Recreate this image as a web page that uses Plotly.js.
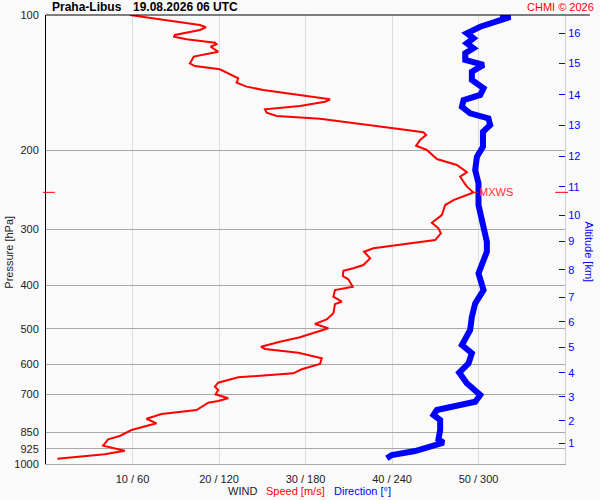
<!DOCTYPE html>
<html>
<head>
<meta charset="utf-8">
<script src="https://cdn.plot.ly/plotly-3.0.1.min.js"></script>
<style>
  html, body { margin: 0; padding: 0; background: #fafafa; }
  #chart { width: 600px; height: 500px; }
</style>
</head>
<body>
<div id="chart"></div>
<script>
// ---- Data ----
// Wind speed profile [m/s] vs pressure [hPa]
const speedPressure = [100, 105.3, 106.5, 108.0, 110.8, 111.8, 113.3, 115.3, 116.2, 117.7, 120.7, 123.8, 128.1, 129.9, 132.1, 134.9, 138.3, 141.5, 144.4, 146.9, 151.4, 154.1, 156.0, 159.5, 162.2, 165.1, 167.9, 170.2, 178.8, 182.5, 185.0, 189.8, 195.5, 199.8, 209.3, 215.8, 224.0, 229.1, 235.1, 241.2, 248.3, 250.4, 258.3, 265.0, 279.0, 290.2, 298.6, 306.4, 317.1, 326.5, 330.9, 336.7, 348.3, 360.5, 366.6, 371.2, 381.4, 387.9, 402.9, 409.8, 424.1, 435.1, 440.3, 461.8, 476.3, 487.6, 498.5, 522.1, 534.0, 547.9, 554.4, 565.0, 581.5, 598.8, 615.3, 628.1, 641.1, 659.1, 672.7, 684.2, 699.5, 714.0, 724.0, 730.3, 758.2, 773.9, 792.8, 811.7, 840.1, 866.3, 881.2, 910.6, 934.2, 951.6, 973.2];
const speed = [9.69, 17.79, 18.48, 17.79, 14.90, 14.81, 16.25, 19.53, 19.72, 19.03, 19.91, 17.09, 16.63, 17.21, 20.10, 21.06, 22.22, 22.04, 23.19, 25.12, 30.14, 32.84, 32.26, 29.36, 25.31, 25.51, 26.67, 31.68, 40.16, 43.63, 43.95, 43.25, 42.79, 44.03, 45.19, 47.50, 48.66, 47.88, 48.26, 48.66, 49.39, 48.96, 47.11, 46.15, 45.76, 44.61, 45.37, 45.65, 44.99, 40.16, 37.85, 36.77, 37.47, 36.69, 35.53, 34.38, 34.31, 34.95, 35.46, 33.41, 33.22, 34.19, 33.41, 33.22, 32.45, 31.10, 32.64, 29.36, 27.05, 24.85, 25.31, 29.17, 31.88, 31.68, 29.56, 28.59, 22.22, 19.91, 19.53, 19.91, 19.61, 21.06, 19.91, 18.75, 17.41, 13.36, 11.62, 12.78, 9.88, 8.53, 7.18, 6.60, 9.11, 6.79, 1.32];

// Wind direction profile [deg] vs pressure [hPa]
const directionPressure = [100, 101.0, 106.2, 109.8, 112.7, 115.6, 118.6, 121.7, 125.9, 129.2, 133.8, 139.6, 145.6, 150.7, 154.7, 160.1, 165.6, 169.9, 175.8, 182.0, 196.5, 206.9, 221.4, 237.1, 265.0, 288.7, 319.9, 336.7, 357.3, 376.2, 409.8, 438.7, 469.9, 503.0, 543.2, 566.7, 596.7, 625.5, 661.1, 702.0, 726.6, 745.5, 758.2, 777.9, 798.1, 840.1, 881.2, 896.7, 922.8, 935.6, 955.0, 971.2];
const direction = [315.1, 322.0, 301.2, 291.9, 296.5, 291.9, 296.5, 290.8, 290.8, 303.5, 295.4, 295.4, 303.5, 301.2, 289.6, 288.5, 294.2, 306.9, 308.1, 303.1, 303.1, 298.9, 297.7, 300.0, 300.0, 302.4, 305.8, 305.8, 302.4, 300.0, 303.5, 297.7, 295.4, 294.2, 288.5, 295.4, 293.1, 286.6, 291.9, 301.2, 297.7, 283.8, 271.1, 268.8, 273.4, 273.4, 272.2, 275.7, 260.7, 256.0, 239.9, 236.4];

// Maximum wind
const maxWindSpeed = 49.4;
const maxWindPressure = 248.3;

// Axis ticks
const pressureTicks = [100, 200, 300, 400, 500, 600, 700, 850, 925, 1000];
const pressureTickText = ['100', '200', '300', '400', '500', '600', '700', '850', '925', '1000'];
const speedTicks = [10, 20, 30, 40, 50];
const windTickText = ['10 / 60', '20 / 120', '30 / 180', '40 / 240', '50 / 300'];
const altitudeKm = ['1', '2', '3', '4', '5', '6', '7', '8', '9', '10', '11', '12', '13', '14', '15', '16'];
const altitudePressure = [899.4, 801.0, 708.2, 626.2, 549.6, 482.6, 424.8, 369.3, 319.2, 279.0, 241.2, 206.5, 176.1, 150.5, 128.1, 109.8];

const FONT = 'Liberation Sans, Arial, sans-serif';
const RED = '#ff0000';
const BLUE = '#0000ff';

const traces = [
  {
    x: speed, y: speedPressure, xaxis: 'x', yaxis: 'y',
    type: 'scatter', mode: 'lines',
    line: { color: RED, width: 2 },
    hoverinfo: 'skip', showlegend: false
  },
  {
    x: direction, y: directionPressure, xaxis: 'x2', yaxis: 'y2',
    type: 'scatter', mode: 'lines',
    line: { color: BLUE, width: 6 },
    hoverinfo: 'skip', showlegend: false
  }
];

const layout = {
  width: 600, height: 500,
  margin: { l: 46, r: 35, t: 15, b: 36, pad: 0 },
  paper_bgcolor: '#fafafa',
  plot_bgcolor: '#fafafa',
  font: { family: FONT, size: 11, color: '#222222' },
  showlegend: false,
  xaxis: {
    range: [0, 60],
    tickmode: 'array', tickvals: speedTicks, ticktext: windTickText,
    showgrid: true, gridcolor: '#dcdcdc', gridwidth: 1,
    zeroline: false,
    showline: true, linecolor: '#a8a8a8', linewidth: 1,
    ticks: 'outside', ticklen: 5, tickcolor: 'rgba(0,0,0,0)',
    tickfont: { family: FONT, size: 11, color: '#222222' },
    fixedrange: true
  },
  xaxis2: {
    range: [0, 360], overlaying: 'x', visible: false, fixedrange: true
  },
  yaxis: {
    type: 'log', range: [3, 2],
    tickmode: 'array', tickvals: pressureTicks, ticktext: pressureTickText,
    showgrid: true, gridcolor: '#a8a8a8', gridwidth: 1,
    zeroline: false,
    showline: true, linecolor: '#000000', linewidth: 1,
    ticks: 'outside', ticklen: 4, tickcolor: 'rgba(0,0,0,0)',
    tickfont: { family: FONT, size: 11, color: '#222222' },
    fixedrange: true
  },
  yaxis2: {
    type: 'log', range: [3, 2], overlaying: 'y', side: 'right', anchor: 'x2',
    tickmode: 'array', tickvals: altitudePressure, ticktext: altitudeKm,
    showgrid: false, zeroline: false,
    showline: true, linecolor: '#cfcfcf', linewidth: 1,
    ticks: 'inside', ticklen: 6, tickcolor: BLUE, tickwidth: 1,
    tickfont: { family: FONT, size: 11, color: BLUE },
    fixedrange: true
  },
  shapes: [
    { type: 'line', xref: 'paper', yref: 'paper', x0: 0, x1: 1.048, y0: 1, y1: 1,
      line: { color: '#000000', width: 1 } },
    { type: 'line', xref: 'paper', yref: 'y', x0: -0.006, x1: 0.017, y0: maxWindPressure, y1: maxWindPressure,
      line: { color: RED, width: 1 } },
    { type: 'line', xref: 'paper', yref: 'y', x0: 0.981, x1: 1.006, y0: maxWindPressure, y1: maxWindPressure,
      line: { color: RED, width: 1 } }
  ],
  annotations: [
    { xref: 'paper', yref: 'paper', x: 0.008, y: 1.018, xanchor: 'left', yanchor: 'middle',
      text: '<b>Praha-Libus</b>', showarrow: false, font: { family: FONT, size: 12, color: '#000000' } },
    { xref: 'paper', yref: 'paper', x: 0.164, y: 1.018, xanchor: 'left', yanchor: 'middle',
      text: '<b>19.08.2026 06 UTC</b>', showarrow: false, font: { family: FONT, size: 12, color: '#000000' } },
    { xref: 'paper', yref: 'paper', x: 1.06, y: 1.018, xanchor: 'right', yanchor: 'middle',
      text: 'CHMI © 2026', showarrow: false, font: { family: FONT, size: 11, color: RED } },
    { xref: 'paper', yref: 'paper', x: -0.073, y: 0.471, xanchor: 'center', yanchor: 'middle',
      text: 'Pressure [hPa]', textangle: -90, showarrow: false, font: { family: FONT, size: 11, color: '#222222' } },
    { xref: 'paper', yref: 'paper', x: 1.048, y: 0.471, xanchor: 'center', yanchor: 'middle',
      text: 'Altitude [km]', textangle: 90, showarrow: false, font: { family: FONT, size: 11, color: BLUE } },
    { xref: 'paper', yref: 'paper', x: 0.346, y: -0.060, xanchor: 'left', yanchor: 'middle',
      text: 'WIND', showarrow: false, font: { family: FONT, size: 11, color: '#222222' } },
    { xref: 'paper', yref: 'paper', x: 0.420, y: -0.060, xanchor: 'left', yanchor: 'middle',
      text: 'Speed [m/s]', showarrow: false, font: { family: FONT, size: 11, color: RED } },
    { xref: 'paper', yref: 'paper', x: 0.551, y: -0.060, xanchor: 'left', yanchor: 'middle',
      text: 'Direction [°]', showarrow: false, font: { family: FONT, size: 11, color: BLUE } },
    { xref: 'x', yref: 'y', x: maxWindSpeed, y: Math.log10(maxWindPressure),
      text: 'MXWS', showarrow: true, arrowhead: 0, arrowwidth: 1, arrowcolor: RED,
      ax: 23, ay: 0, standoff: 0, font: { family: FONT, size: 11, color: '#ff3030' } }
  ]
};

Plotly.newPlot('chart', traces, layout, { displayModeBar: false, staticPlot: true });
</script>
</body>
</html>
